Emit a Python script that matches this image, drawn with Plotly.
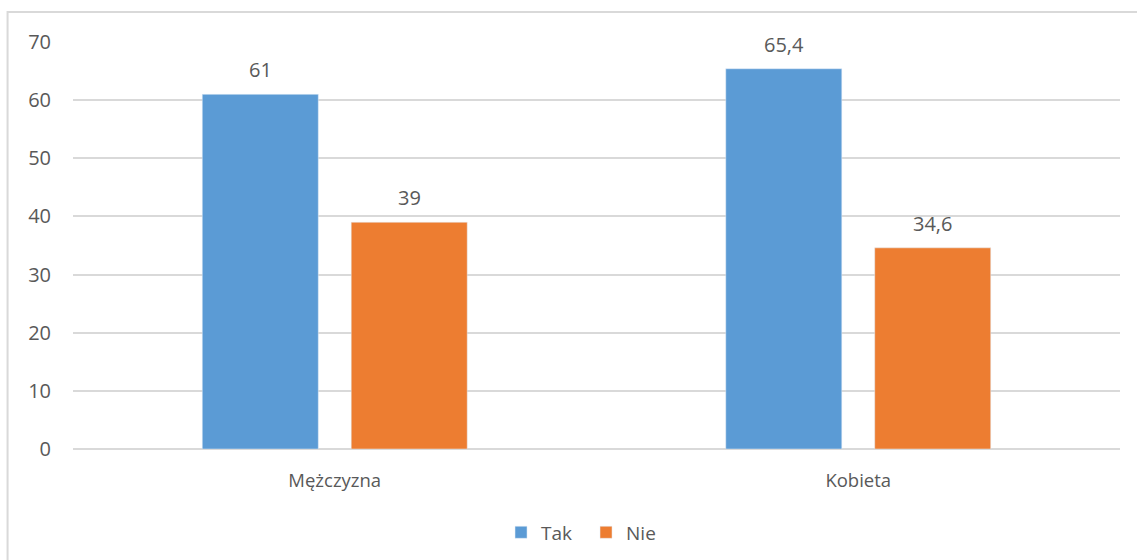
import plotly.graph_objects as go

categories = ["Mężczyzna", "Kobieta"]
tak_values = [61, 65.4]
nie_values = [39, 34.6]
y_ticks = [0, 10, 20, 30, 40, 50, 60, 70]

BLUE = "#5B9BD5"
ORANGE = "#ED7D31"
TEXT = "#595959"
GRID = "#D9D9D9"
FONT = "Open Sans, sans-serif"
NUM_SIZE = 20
CAT_SIZE = 18.5
LEG_SIZE = 19

fig = go.Figure()
fig.add_trace(go.Bar(name="Tak", x=categories, y=tak_values, marker_color=BLUE))
fig.add_trace(go.Bar(name="Nie", x=categories, y=nie_values, marker_color=ORANGE))

# value labels above each bar, formatted with a decimal comma
def fmt(v):
    return str(v).replace(".", ",") if v % 1 else str(int(v))

for vals, shift in ((tak_values, -74.5), (nie_values, 74.5)):
    for cat, v in zip(categories, vals):
        fig.add_annotation(x=cat, y=v, xref="x", yref="y", text=fmt(v),
                           showarrow=False, xshift=shift, yanchor="bottom", yshift=9,
                           font=dict(family=FONT, size=NUM_SIZE, color=TEXT))

# outer chart border
fig.add_shape(type="rect", xref="paper", yref="paper",
              x0=-0.0625, x1=1.03, y0=-0.3, y1=1.0735,
              line=dict(color="#D9D9D9", width=2), fillcolor="rgba(0,0,0,0)", layer="below")

fig.update_layout(
    width=1137, height=560,
    margin=dict(l=73, r=17, t=42, b=111, autoexpand=False),
    paper_bgcolor="white", plot_bgcolor="white",
    barmode="group", bargap=0.431, bargroupgap=0.221,
    separators=",.",
    font=dict(family=FONT, size=CAT_SIZE, color=TEXT),
    showlegend=True,
    legend=dict(orientation="h", x=0.49, xanchor="center", y=-0.205, yanchor="middle",
                font=dict(family=FONT, size=LEG_SIZE, color=TEXT), itemwidth=30,
                entrywidth=40, entrywidthmode="pixels",
                traceorder="normal"),
    xaxis=dict(showgrid=False, showline=False, ticks="", ticklabelstandoff=18,
               automargin=False,
               tickfont=dict(family=FONT, size=CAT_SIZE, color=TEXT)),
    yaxis=dict(range=[0, 70], tickvals=y_ticks, showgrid=True, gridcolor=GRID, gridwidth=2,
               zeroline=True, zerolinecolor=GRID, zerolinewidth=2, showline=False,
               ticks="", ticklabelstandoff=21, automargin=False,
               tickfont=dict(family=FONT, size=NUM_SIZE, color=TEXT)),
)

fig.write_html("out.html")
